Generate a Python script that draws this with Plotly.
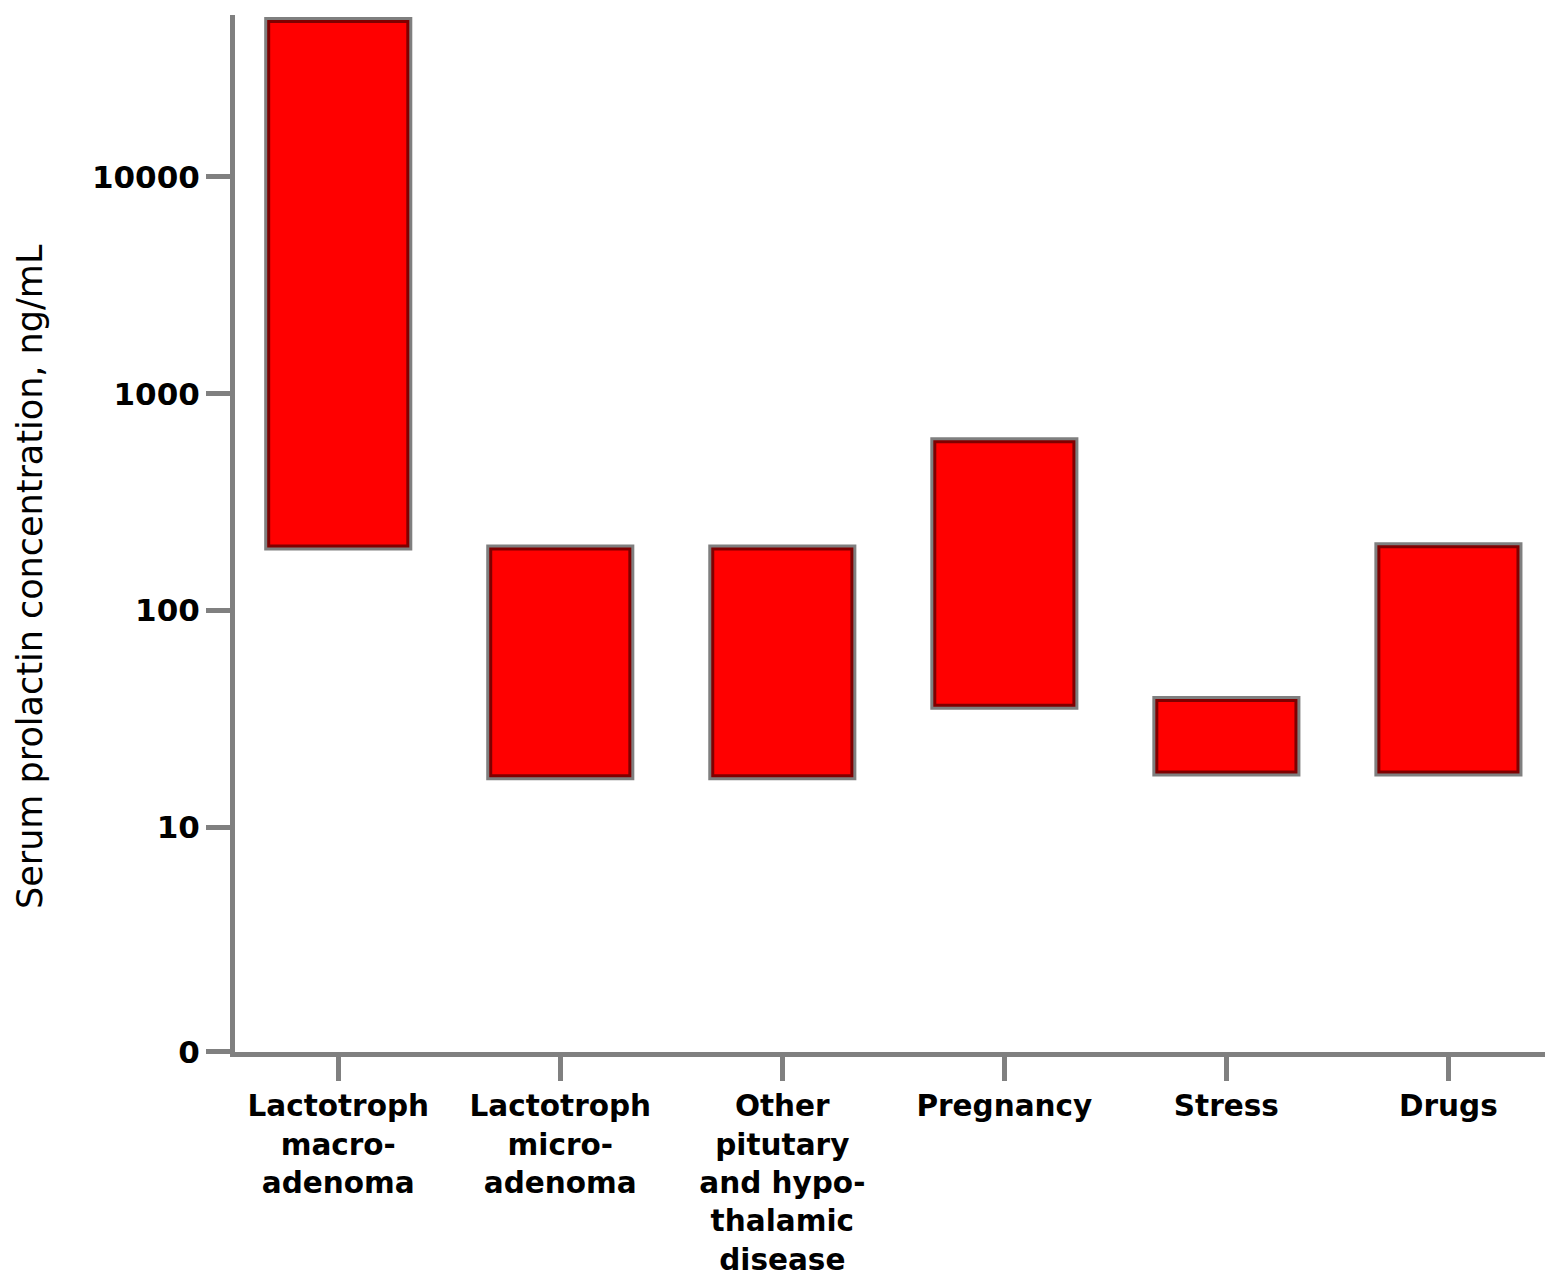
import plotly.graph_objects as go

categories = [
    "Lactotroph<br>macro-<br>adenoma",
    "Lactotroph<br>micro-<br>adenoma",
    "Other<br>pitutary<br>and hypo-<br>thalamic<br>disease",
    "Pregnancy",
    "Stress",
    "Drugs",
]
low_values = [195, 17, 17, 36, 17.7, 17.7]
high_values = [53000, 195, 195, 610, 39, 200]

ytick_values = [0.92, 10, 100, 1000, 10000]
ytick_labels = ["0", "10", "100", "1000", "10000"]

lengths = [h - l for h, l in zip(high_values, low_values)]

fig = go.Figure()
fig.add_trace(go.Bar(
    x=categories,
    y=lengths,
    base=low_values,
    width=0.64,
    marker=dict(color="#FF0000", line=dict(color="rgba(0,0,0,0.5)", width=6)),
    hoverinfo="skip",
))

font_bold = "DejaVu Sans"
fig.update_layout(
    width=1545,
    height=1274,
    margin=dict(l=235, r=0, t=15, b=222, autoexpand=False),
    plot_bgcolor="white",
    paper_bgcolor="white",
    showlegend=False,
    font=dict(family=font_bold, color="black"),
    xaxis=dict(
        showline=True, linecolor="#808080", linewidth=5,
        ticks="outside", ticklen=24, tickwidth=5, tickcolor="#808080",
        tickfont=dict(size=29.5, family=font_bold, weight="bold"),
        range=[-0.465, 5.435],
        showgrid=False, zeroline=False, automargin=False,
    ),
    yaxis=dict(
        type="log",
        range=[-0.037, 4.747],
        showline=True, linecolor="#808080", linewidth=5,
        ticks="outside", ticklen=24, tickwidth=5, tickcolor="#808080",
        tickmode="array", tickvals=ytick_values, ticktext=ytick_labels,
        tickfont=dict(size=31, family=font_bold, weight="bold"),
        showgrid=False, zeroline=False, automargin=False,
    ),
    annotations=[dict(
        text="Serum prolactin concentration, ng/mL",
        xref="paper", yref="paper",
        x=(30 - 235) / 1310, y=(1052 - 577) / 1037,
        xanchor="center", yanchor="middle",
        textangle=-90, showarrow=False,
        font=dict(size=35, family="DejaVu Sans", color="black"),
    )],
)

fig.write_html(
    "out.html",
    config={"displayModeBar": False},
    post_script="document.body.style.margin='0px';document.body.style.overflow='hidden';",
)
